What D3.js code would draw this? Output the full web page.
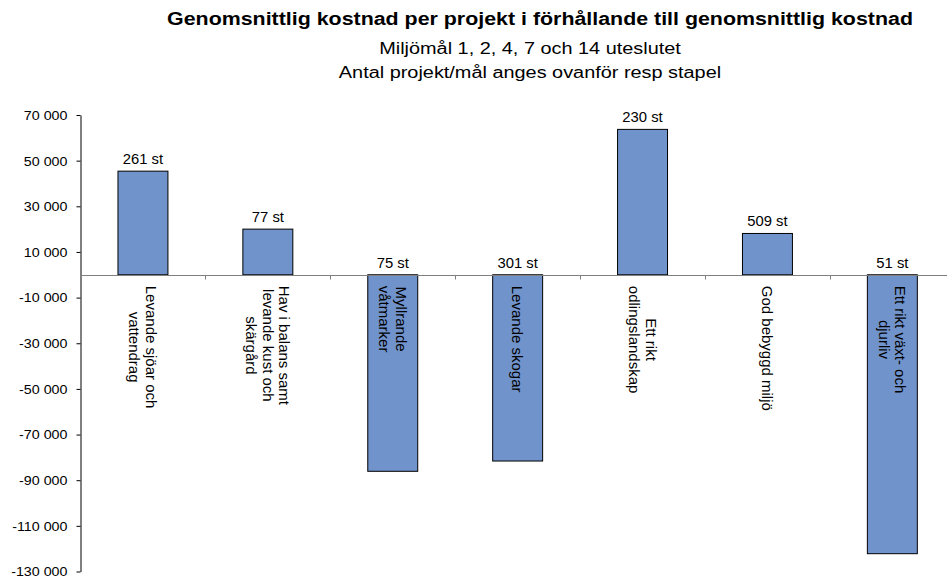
<!DOCTYPE html>
<html>
<head>
<meta charset="utf-8">
<script src="https://cdn.jsdelivr.net/npm/d3@7"></script>
<style>
  html, body { margin: 0; padding: 0; background: #fff; }
  svg { display: block; font-family: "Liberation Sans", Arial, Helvetica, sans-serif; }
</style>
</head>
<body>
<svg id="chart" width="947" height="581"></svg>
<script>
// ---- data ----
const categories = [
  ["Levande sjöar och", "vattendrag"],
  ["Hav i balans samt", "levande kust och", "skärgård"],
  ["Myllrande", "våtmarker"],
  ["Levande skogar"],
  ["Ett rikt", "odlingslandskap"],
  ["God bebyggd miljö"],
  ["Ett rikt växt- och", "djurliv"]
];
const values = [45400, 20000, -86100, -81600, 63700, 18100, -122200];
const counts = [261, 77, 75, 301, 230, 509, 51];
const yTicks = [70000, 50000, 30000, 10000, -10000, -30000, -50000, -70000, -90000, -110000, -130000];
const titleText = "Genomsnittlig kostnad per projekt i förhållande till genomsnittlig kostnad";
const subtitleLines = ["Miljömål 1, 2, 4, 7 och 14 uteslutet", "Antal projekt/mål anges ovanför resp stapel"];

// ---- layout ----
const svg = d3.select("#chart");
const axisX = 80.5;
const catKeys = categories.map((c, i) => i);
const x = d3.scaleBand().domain(catKeys).range([axisX, axisX + 7 * 124.9]).padding(0);
const y = d3.scaleLinear().domain([-130000, 70000]).range([571.5, 115]);
const barW = x.bandwidth() * 0.4;
const fmt = d3.formatLocale({decimal: ",", thousands: " ", grouping: [3], currency: ["", ""], minus: "-"}).format(",d");

// Titles
svg.append("text")
  .attr("transform", "translate(540,25) scale(1.15,1)")
  .attr("text-anchor", "middle")
  .attr("font-weight", "bold")
  .attr("font-size", "18.6px")
  .attr("fill", "#000")
  .text(titleText);

svg.selectAll("text.sub").data(subtitleLines).join("text")
  .attr("class", "sub")
  .attr("transform", (d, i) => `translate(530,${54 + i * 23.5}) scale(1.15,1)`)
  .attr("text-anchor", "middle")
  .attr("font-size", "17.3px")
  .attr("fill", "#000")
  .text(d => d);

// Y axis
const yAxis = d3.axisLeft(y).tickValues(yTicks).tickFormat(fmt).tickSize(4).tickSizeOuter(0).tickPadding(9);
const gy = svg.append("g").attr("transform", `translate(${axisX},0)`).call(yAxis);
gy.select(".domain").attr("stroke", "#000");
gy.selectAll(".tick line").attr("stroke", "#000");
gy.selectAll(".tick text")
  .attr("font-family", "Liberation Sans, Arial, sans-serif")
  .attr("font-size", "13.6px")
  .attr("fill", "#000")
  .attr("x", null)
  .attr("transform", "translate(-13,0) scale(1.05,1)");

// Bars
svg.selectAll("rect.bar").data(values).join("rect")
  .attr("class", "bar")
  .attr("x", (d, i) => x(i) + (x.bandwidth() - barW) / 2)
  .attr("y", d => y(Math.max(0, d)))
  .attr("width", barW)
  .attr("height", d => Math.abs(y(d) - y(0)))
  .attr("fill", "#7193CB")
  .attr("stroke", "#000")
  .attr("stroke-width", 1);

// Zero line and category ticks
const y0 = Math.round(y(0)) + 0.5;
svg.append("line")
  .attr("x1", axisX).attr("x2", x.range()[1])
  .attr("y1", y0).attr("y2", y0)
  .attr("stroke", "#7f7f7f").attr("stroke-width", 1);
const bounds = catKeys.map(i => x(i)).concat([x.range()[1]]).slice(1);
svg.selectAll("line.ctick").data(bounds).join("line")
  .attr("class", "ctick")
  .attr("x1", d => Math.round(d) + 0.5).attr("x2", d => Math.round(d) + 0.5)
  .attr("y1", y0).attr("y2", y0 + 4)
  .attr("stroke", "#7f7f7f");

// Count labels
svg.selectAll("text.cnt").data(values).join("text")
  .attr("class", "cnt")
  .attr("transform", (d, i) => `translate(${x(i) + x.bandwidth() / 2},${Math.min(y(d), y(0)) - 7}) scale(1.06,1)`)
  .attr("text-anchor", "middle")
  .attr("font-size", "14px")
  .attr("fill", "#000")
  .text((d, i) => counts[i] + " st");

// Category labels (rotated)
const lineH = 16.5;
categories.forEach((lines, i) => {
  const g = svg.append("g");
  const t = g.append("text")
    .attr("text-anchor", "middle")
    .attr("font-size", "15px")
    .attr("fill", "#000");
  lines.forEach((ln, j) => {
    t.append("tspan")
      .attr("x", 0)
      .attr("y", (j - (lines.length - 1) / 2) * lineH)
      .attr("dy", "0.35em")
      .text(ln);
  });
  let maxLen = 0;
  t.selectAll("tspan").each(function() { maxLen = Math.max(maxLen, this.getComputedTextLength()); });
  g.attr("transform", `translate(${x(i) + x.bandwidth() / 2},${y(0) + 11 + maxLen / 2}) rotate(90)`);
});
</script>
</body>
</html>
